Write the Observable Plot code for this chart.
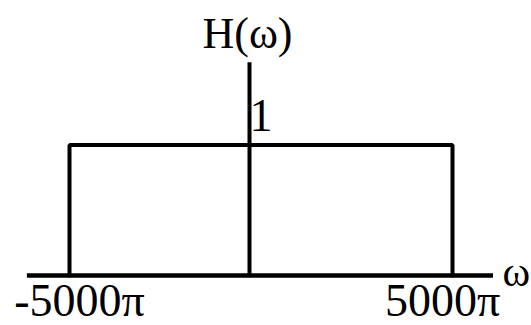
<!DOCTYPE html>
<html>
<head>
<meta charset="utf-8">
<script src="https://cdn.jsdelivr.net/npm/d3@7"></script>
<script src="https://cdn.jsdelivr.net/npm/@observablehq/plot@0.6"></script>
<style>
  html, body { margin: 0; padding: 0; background: #fff; }
  svg { display: block; }
</style>
</head>
<body>
<div id="chart"></div>
<script>
// Data (ω in units of π)
const cutoffs = [-5000, 5000];          // passband edges
const gain = [1];                        // passband height
const tickLabels = ["-5000π", "5000π"];
const axisExtentX = [-6170, 6010];       // extent of the ω axis line
const axisExtentY = [0, 1.63];           // extent of the H(ω) axis line
const yAxisLabel = "H(ω)";
const xAxisLabel = "ω";
const gainLabel = "1";

const rectPath = [
  {x: cutoffs[0], y: 0},
  {x: cutoffs[0], y: gain[0]},
  {x: cutoffs[1], y: gain[0]},
  {x: cutoffs[1], y: 0}
];

const font = "Liberation Serif, Times New Roman, serif";

const plot = Plot.plot({
  width: 531,
  height: 325,
  margin: 0,
  style: {fontFamily: font, background: "#fff"},
  x: {type: "linear", domain: [cutoffs[0], 0, cutoffs[1]], range: [69, 249, 452], axis: null},
  y: {type: "linear", domain: [0, gain[0]], range: [275, 144.5], axis: null},
  marks: [
    Plot.ruleY([0], {x1: axisExtentX[0], x2: axisExtentX[1], stroke: "#000", strokeWidth: 4.5}),
    Plot.ruleX([0], {y1: axisExtentY[0], y2: axisExtentY[1], stroke: "#000", strokeWidth: 4}),
    Plot.line(rectPath, {x: "x", y: "y", stroke: "#000", strokeWidth: 4, strokeLinejoin: "miter", curve: "linear"}),
    // tick labels
    Plot.text([tickLabels[0]], {x: cutoffs[0], y: 0, text: d => d, fontSize: 46, textAnchor: "middle", lineAnchor: "bottom", dx: 10, dy: 40, fill: "#000"}),
    Plot.text([tickLabels[1]], {x: cutoffs[1], y: 0, text: d => d, fontSize: 46, textAnchor: "middle", lineAnchor: "bottom", dx: -10, dy: 40, fill: "#000"}),
    // axis titles
    Plot.text([xAxisLabel], {x: axisExtentX[1], y: 0, text: d => d, fontSize: 42, textAnchor: "start", lineAnchor: "bottom", dx: 9, dy: 10, fill: "#000"}),
    Plot.text([yAxisLabel], {x: 0, y: axisExtentY[1], text: d => d, fontSize: 44, textAnchor: "middle", lineAnchor: "bottom", dx: -2, dy: -15, fill: "#000"}),
    Plot.text([gainLabel], {x: 0, y: gain[0], text: d => d, fontSize: 46, textAnchor: "start", lineAnchor: "bottom", dx: 0, dy: -14, fill: "#000"})
  ]
});
document.getElementById("chart").append(plot);
</script>
</body>
</html>
